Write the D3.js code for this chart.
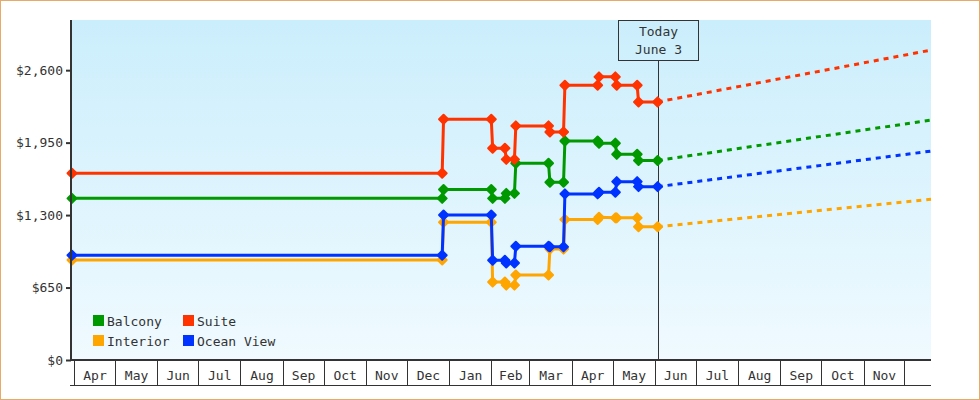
<!DOCTYPE html>
<html>
<head>
<meta charset="utf-8">
<script src="https://cdn.jsdelivr.net/npm/d3@7"></script>
<style>
  html, body { margin: 0; padding: 0; background: #fff; }
  svg { display: block; font-family: "DejaVu Sans Mono", monospace; }
</style>
</head>
<body>
<svg id="chart" width="980" height="400"></svg>
<script>
// ---------------- DATA ----------------
const seriesNames = ["Balcony", "Suite", "Interior", "Ocean View"];
const seriesColors = ["#009900", "#ff3300", "#ffa500", "#0033ff"];

const dates = [
  "2022-03-30 12:00", "2022-12-27", "2022-12-28", "2023-02-01", "2023-02-02",
  "2023-02-11", "2023-02-12", "2023-02-18", "2023-02-19", "2023-03-15",
  "2023-03-16", "2023-03-26", "2023-03-27", "2023-04-20", "2023-04-21",
  "2023-05-03", "2023-05-04", "2023-05-19", "2023-05-20", "2023-06-03"
];

const balcony   = [1450, 1450, 1530, 1530, 1450, 1450, 1495, 1495, 1765, 1765,
                   1595, 1595, 1965, 1965, 1945, 1945, 1845, 1845, 1790, 1790];
const suite     = [1675, 1675, 2160, 2160, 1900, 1900, 1800, 1800, 2100, 2100,
                   2045, 2045, 2465, 2465, 2540, 2540, 2465, 2465, 2315, 2315];
const interior  = [897, 897, 1235, 1235, 700, 700, 672, 672, 762, 762,
                   995, 995, 1260, 1260, 1280, 1275, 1275, 1275, 1195, 1195];
const oceanView = [940, 940, 1300, 1300, 895, 895, 870, 870, 1020, 1020,
                   1015, 1015, 1490, 1490, 1505, 1505, 1600, 1600, 1555, 1555];

// projected values at the end of the time axis (dashed forecast)
const projectedEnd = [2152, 2780, 1441, 1874];

const todayDate = "2023-06-03";
const todayLabel = ["Today", "June 3"];
const domainStart = "2022-03-30 12:00";
const domainEnd = "2023-12-20 12:00";
const yTicks = [0, 650, 1300, 1950, 2600];
const yMax = 3050;

// ---------------- CHART ----------------
const parseDay = d3.timeParse("%Y-%m-%d");
const parseHour = d3.timeParse("%Y-%m-%d %H:%M");
const parse = s => (s.length > 10 ? parseHour(s) : parseDay(s));

const svg = d3.select("#chart");
const W = 980, H = 400;
const plot = { left: 72, right: 931, top: 20, bottom: 360 };
const ink = "#333333";

const x = d3.scaleTime()
  .domain([parse(domainStart), parse(domainEnd)])
  .range([plot.left, plot.right]);
const y = d3.scaleLinear()
  .domain([0, yMax])
  .range([plot.bottom, plot.top]);

// outer border
svg.append("rect")
  .attr("x", 0.5).attr("y", 0.5).attr("width", W - 1).attr("height", H - 1)
  .attr("fill", "#fff").attr("stroke", "#e8aa68");

// background gradient
const defs = svg.append("defs");
const grad = defs.append("linearGradient").attr("id", "bg")
  .attr("x1", 0).attr("y1", 0).attr("x2", 0).attr("y2", 1);
grad.append("stop").attr("offset", "0%").attr("stop-color", "#cbeefc");
grad.append("stop").attr("offset", "100%").attr("stop-color", "#f0faff");

svg.append("rect")
  .attr("x", plot.left).attr("y", plot.top)
  .attr("width", plot.right - plot.left).attr("height", plot.bottom - plot.top)
  .attr("fill", "url(#bg)");

// Today marker
const tx = Math.round(x(parse(todayDate))) + 0.5;
svg.append("line")
  .attr("x1", tx).attr("x2", tx).attr("y1", 60).attr("y2", plot.bottom)
  .attr("stroke", ink).attr("stroke-width", 1);
svg.append("rect")
  .attr("x", tx - 40).attr("y", 20.5).attr("width", 80).attr("height", 40)
  .attr("fill", "none").attr("stroke", ink).attr("stroke-width", 1);
svg.selectAll("text.today").data(todayLabel).enter().append("text")
  .attr("class", "today")
  .attr("x", tx).attr("y", (d, i) => 36 + i * 18)
  .attr("text-anchor", "middle")
  .attr("font-size", 13).attr("fill", ink)
  .text(d => d);

// series
const seriesValues = [balcony, suite, interior, oceanView];
const parsedDates = dates.map(parse);
const line = d3.line().x(d => x(d[0])).y(d => y(d[1]));
const diamond = "M0,-4.5L4.5,0L0,4.5L-4.5,0Z";

seriesNames.forEach((name, si) => {
  const pts = parsedDates.map((d, i) => [d, seriesValues[si][i]]);
  const g = svg.append("g");
  const last = pts[pts.length - 1];
  // dashed projection
  g.append("path")
    .attr("d", line([last, [parse(domainEnd), projectedEnd[si]]]))
    .attr("fill", "none").attr("stroke", seriesColors[si])
    .attr("stroke-width", 3).attr("stroke-dasharray", "5,5");
  // actual history
  g.append("path")
    .attr("d", line(pts))
    .attr("fill", "none").attr("stroke", seriesColors[si])
    .attr("stroke-width", 3).attr("stroke-linejoin", "round");
  g.selectAll("path.pt").data(pts).enter().append("path")
    .attr("class", "pt")
    .attr("transform", d => `translate(${x(d[0])},${y(d[1])})`)
    .attr("d", diamond)
    .attr("fill", seriesColors[si])
    .attr("stroke", seriesColors[si]).attr("stroke-width", 2)
    .attr("stroke-linejoin", "round");
});

// Y axis
const yAxis = d3.axisLeft(y)
  .tickValues(yTicks)
  .tickFormat(d3.format("$,"))
  .tickSize(5)
  .tickSizeOuter(0)
  .tickPadding(3);
const yg = svg.append("g")
  .attr("transform", `translate(${plot.left - 1},0)`)
  .call(yAxis);
yg.select(".domain").attr("stroke", ink).attr("stroke-width", 2)
  .attr("d", `M0,${plot.top}V${plot.bottom + 1}`);
yg.selectAll(".tick line").attr("stroke", ink).attr("stroke-width", 2);
yg.selectAll(".tick text")
  .attr("font-family", "DejaVu Sans Mono, monospace")
  .attr("font-size", 13).attr("fill", ink);

// X axis: month cells
const monthStarts = d3.timeMonth.range(d3.timeMonth.ceil(parse(domainStart)), parse(domainEnd));
const xg = svg.append("g");
xg.append("line")
  .attr("x1", plot.left - 2).attr("x2", plot.right)
  .attr("y1", plot.bottom).attr("y2", plot.bottom)
  .attr("stroke", ink).attr("stroke-width", 2);
xg.append("line")
  .attr("x1", plot.left - 2).attr("x2", plot.right)
  .attr("y1", 385.5).attr("y2", 385.5)
  .attr("stroke", ink).attr("stroke-width", 1);
xg.selectAll("line.div").data(monthStarts).enter().append("line")
  .attr("class", "div")
  .attr("x1", d => Math.round(x(d)) + 0.5).attr("x2", d => Math.round(x(d)) + 0.5)
  .attr("y1", plot.bottom).attr("y2", 385.5)
  .attr("stroke", ink).attr("stroke-width", 1);
const fmtMonth = d3.timeFormat("%b");
xg.selectAll("text.m").data(monthStarts.slice(0, -1)).enter().append("text")
  .attr("class", "m")
  .attr("x", (d, i) => (x(d) + x(monthStarts[i + 1])) / 2 + 0.5)
  .attr("y", 380)
  .attr("text-anchor", "middle")
  .attr("font-size", 13).attr("fill", ink)
  .text(d => fmtMonth(d));

// Legend
const legendPos = [[93, 315], [183, 315], [93, 335], [183, 335]];
const lg = svg.append("g");
seriesNames.forEach((name, i) => {
  const [lx, ly] = legendPos[i];
  lg.append("rect")
    .attr("x", lx).attr("y", ly).attr("width", 11).attr("height", 11)
    .attr("fill", seriesColors[i]);
  lg.append("text")
    .attr("x", lx + 14).attr("y", ly + 11)
    .attr("font-size", 13).attr("fill", ink)
    .text(name);
});
</script>
</body>
</html>
